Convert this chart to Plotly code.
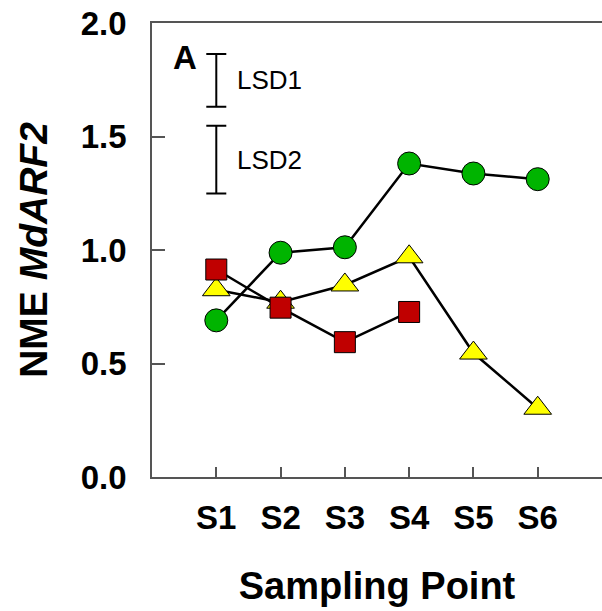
import plotly.graph_objects as go

categories = ["S1", "S2", "S3", "S4", "S5", "S6"]
green_vals = [0.69, 0.988, 1.012, 1.381, 1.337, 1.312]
yellow_vals = [0.825, 0.77, 0.846, 0.970, 0.546, 0.303]
red_cats = ["S1", "S2", "S3", "S4"]
red_vals = [0.914, 0.746, 0.594, 0.727]
lsd_labels = ["LSD1", "LSD2"]
lsd_centers = [1.747, 1.398]
lsd_half = [0.116, 0.149]

FONT = "Arial, Liberation Sans, sans-serif"
AXC = "#555555"

fig = go.Figure()
fig.add_trace(go.Scatter(
    x=categories, y=green_vals, mode="lines+markers",
    line=dict(color="black", width=2.5),
    marker=dict(symbol="circle", size=23, color="#00B400", line=dict(color="black", width=1)),
))
fig.add_trace(go.Scatter(
    x=categories, y=yellow_vals, mode="lines+markers",
    line=dict(color="black", width=2.5),
    marker=dict(symbol="triangle-up", size=24, color="#FFFF00", line=dict(color="black", width=1)),
))
fig.add_trace(go.Scatter(
    x=red_cats, y=red_vals, mode="lines+markers",
    line=dict(color="black", width=2.5),
    marker=dict(symbol="square", size=21, color="#C00000", line=dict(color="black", width=1)),
))
fig.add_trace(go.Scatter(
    x=["S1", "S1"], y=lsd_centers, mode="markers",
    marker=dict(size=1, color="rgba(0,0,0,0)"),
    error_y=dict(type="data", array=lsd_half, symmetric=True, color="black", thickness=2, width=10),
))

for lab, c in zip(lsd_labels, lsd_centers):
    fig.add_annotation(x=0, y=c, xref="x", yref="y", text=lab, showarrow=False,
                       xanchor="left", yanchor="middle", xshift=19,
                       font=dict(family=FONT, size=26, color="black"))

fig.add_annotation(x=0.073, y=1.85, xref="paper", yref="y", text="<b>A</b>", showarrow=False,
                   xanchor="center", yanchor="middle",
                   font=dict(family=FONT, size=33, color="black"))

fig.update_layout(
    width=602, height=611,
    margin=dict(l=152, r=0, t=23, b=134),
    plot_bgcolor="white", paper_bgcolor="white",
    showlegend=False,
    font=dict(family=FONT, color="black"),
    xaxis=dict(
        type="category", categoryorder="array", categoryarray=categories,
        range=[-1, 6.0], showgrid=False, zeroline=False, automargin=False,
        showline=True, linecolor=AXC, linewidth=1.5, mirror=True,
        ticks="inside", ticklen=10, tickcolor=AXC, tickwidth=1.5,
        tickfont=dict(family=FONT, size=33, color="black", weight="bold"),
        ticklabelstandoff=11, ticklabeloverflow="allow",
        title=dict(text="<b>Sampling Point</b>", font=dict(family=FONT, size=38, color="black"), standoff=37),
    ),
    yaxis=dict(
        range=[0, 2.0], dtick=0.5, tickformat=".1f", automargin=False,
        showgrid=False, zeroline=False,
        showline=True, linecolor=AXC, linewidth=1.5, mirror=False,
        ticks="inside", ticklen=13, tickcolor=AXC, tickwidth=1.5,
        tickfont=dict(family=FONT, size=33, color="black", weight="bold"),
        ticklabelstandoff=17, ticklabeloverflow="allow",
        title=dict(text="<b>NME <i>MdARF2</i></b>", font=dict(family=FONT, size=39, color="black"), standoff=21),
    ),
)

fig.write_html("out.html", config={"displayModeBar": False},
               post_script="document.body.style.margin='0px';")
